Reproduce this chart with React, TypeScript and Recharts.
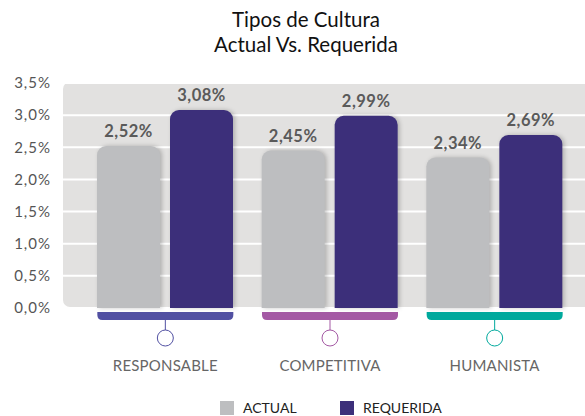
import React from 'react';
import {
  BarChart,
  Bar,
  XAxis,
  YAxis,
  CartesianGrid,
  LabelList,
  Rectangle
} from 'recharts';

const categories = ['RESPONSABLE', 'COMPETITIVA', 'HUMANISTA'];
const actualValues = [2.52, 2.45, 2.34];
const requeridaValues = [3.08, 2.99, 2.69];
const yTicks = [0, 0.5, 1, 1.5, 2, 2.5, 3, 3.5];
const categoryColors = ['#5150a2', '#a459a4', '#00a99d'];
const seriesNames = ['ACTUAL', 'REQUERIDA'];
const seriesColors = ['#bdbec0', '#3c2f7a'];

const data = categories.map((name, i) => ({
  name,
  actual: actualValues[i],
  requerida: requeridaValues[i],
}));

const FONT = 'Lato, "Open Sans", sans-serif';
const pct = (v: number, d: number) => v.toFixed(d).replace('.', ',') + '%';

const ShadowBar = (props: any) => (
  <Rectangle
    {...props}
    radius={[9, 9, 0, 0]}
    style={{ filter: 'drop-shadow(2px 0px 2px rgba(0,0,0,0.22))' }}
  />
);

const CategoryTick = (props: any) => {
  const { x, y, payload } = props;
  const color = categoryColors[payload.index % categoryColors.length];
  const half = 68;
  const top = y + 4;
  const bottom = y + 12;
  const r = 5;
  const strip = `M${x - half},${top} H${x + half} V${bottom - r} Q${x + half},${bottom} ${x + half - r},${bottom} H${x - half + r} Q${x - half},${bottom} ${x - half},${bottom - r} Z`;
  return (
    <g>
      <path d={strip} fill={color} />
      <line x1={x} y1={bottom} x2={x} y2={y + 22} stroke={color} strokeWidth={1} />
      <circle cx={x} cy={y + 30} r={8} fill="#fff" stroke={color} strokeWidth={1} />
      <text x={x} y={y + 63} textAnchor="middle" fill="#666" fontSize={15} fontFamily={FONT} letterSpacing={0.2}>
        {payload.value}
      </text>
    </g>
  );
};

export default function App() {
  return (
    <div style={{ position: 'absolute', left: 0, top: 0, width: 585, height: 416, background: '#fff', fontFamily: FONT, overflow: 'hidden' }}>
      <div style={{ position: 'absolute', left: 63, top: 82, width: 540, height: 225, background: '#e2e1e0', borderRadius: 7 }} />
      <div style={{ position: 'absolute', left: 0, width: 612, top: 7, textAlign: 'center', fontSize: 20.5, lineHeight: '25px', color: '#111' }}>
        Tipos de Cultura<br />Actual Vs. Requerida
      </div>
      <div style={{ position: 'absolute', left: 0, top: 0 }}>
        <BarChart
          width={585}
          height={416}
          data={data}
          margin={{ top: 83, right: 0, left: 7, bottom: 28 }}
          barSize={63}
          barGap={10}
        >
          <CartesianGrid vertical={false} stroke="#ffffff" strokeWidth={2} />
          <XAxis
            dataKey="name"
            axisLine={false}
            tickLine={false}
            tickSize={0}
            tickMargin={0}
            height={80}
            interval={0}
            padding={{ left: 20, right: 8 }}
            tick={<CategoryTick />}
          />
          <YAxis
            domain={[0, 3.5]}
            ticks={yTicks}
            width={56}
            axisLine={false}
            tickLine={false}
            tickSize={0}
            tickMargin={12}
            tick={{ fill: '#555', fontSize: 15, fontFamily: FONT, letterSpacing: 1 }}
            tickFormatter={(v: number) => pct(v, 1)}
          />
          <Bar dataKey="actual" fill={seriesColors[0]} shape={<ShadowBar />} isAnimationActive={false}>
            <LabelList dataKey="actual" position="top" offset={9} formatter={(v: any) => pct(Number(v), 2)} fill="#5a5a5a" fontSize={16.5} fontWeight={700} fontFamily={FONT} letterSpacing={0.5} />
          </Bar>
          <Bar dataKey="requerida" fill={seriesColors[1]} shape={<ShadowBar />} isAnimationActive={false}>
            <LabelList dataKey="requerida" position="top" offset={9} formatter={(v: any) => pct(Number(v), 2)} fill="#5a5a5a" fontSize={16.5} fontWeight={700} fontFamily={FONT} letterSpacing={0.5} />
          </Bar>
        </BarChart>
      </div>
      <div style={{ position: 'absolute', top: 400, left: 220, display: 'flex', alignItems: 'center', fontSize: 14, lineHeight: '15px', color: '#222' }}>
        {seriesNames.map((n, i) => (
          <div key={n} style={{ display: 'flex', alignItems: 'center', width: 120 }}>
            <span style={{ display: 'inline-block', width: 14, height: 14, background: seriesColors[i], marginRight: 9 }} />
            <span>{n}</span>
          </div>
        ))}
      </div>
    </div>
  );
}
